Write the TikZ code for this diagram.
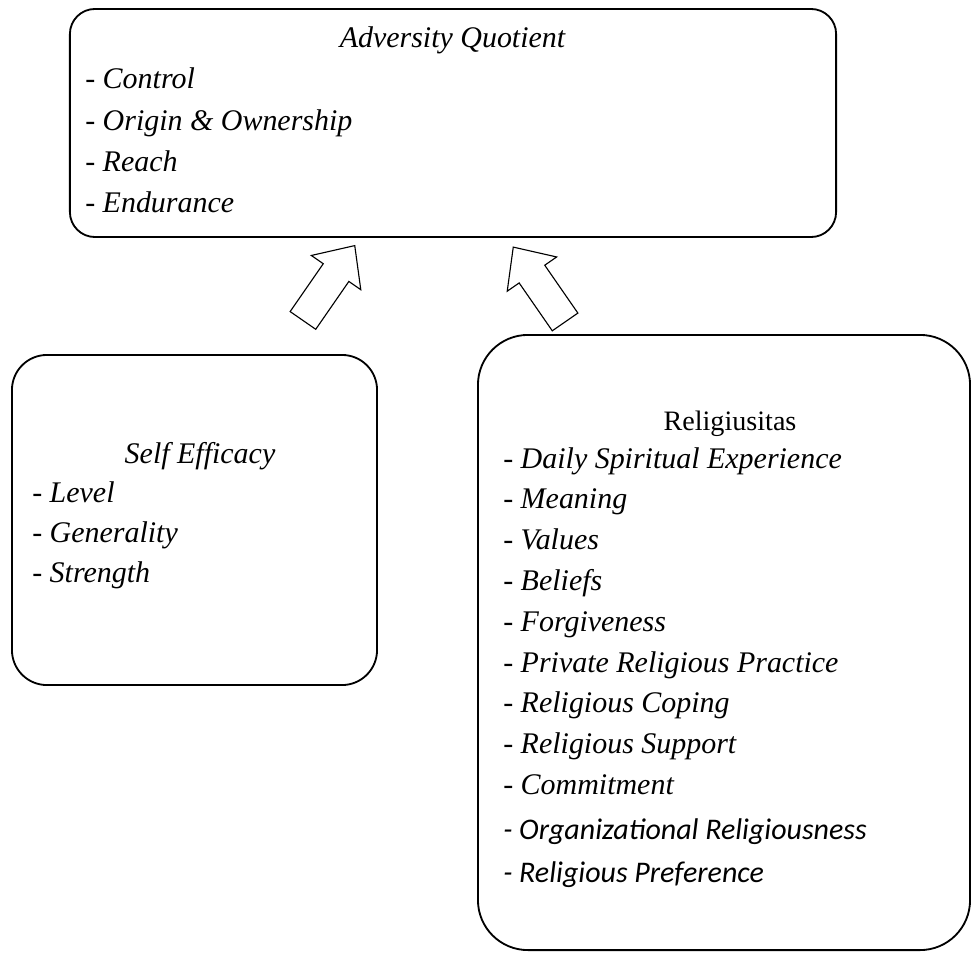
\documentclass[tikz,border=0pt]{standalone}
\usepackage{fontspec}
\setmainfont{LiberationSerif}[Extension=.ttf, UprightFont=*-Regular,
  ItalicFont=*-Italic, BoldFont=*-Bold, BoldItalicFont=*-BoldItalic]
\newfontfamily\calibri{Carlito}
\usepackage{tikz}
\usetikzlibrary{shapes.arrows}
\tikzset{%
  % boxes
  panel/.style={draw, rounded corners=#1, line width=1.3pt, inner sep=0pt},
  title/.style={inner sep=0pt, anchor=base, font=\fontsize{21.3}{26}\selectfont},
  item/.style={inner sep=0pt, anchor=base west, font=\fontsize{21.3}{26}\selectfont\itshape},
  itemsans/.style={inner sep=0pt, anchor=base west, font=\fontsize{21.3}{26}\selectfont\calibri\itshape},
  % block arrows
  bigarrow/.style={single arrow, draw, line width=0.8pt, inner sep=0pt,
    text height=0.75cm, text depth=0pt, minimum height=2.275cm,
    single arrow head extend=0.3625cm, single arrow tip angle=85},
}

\begin{document}
\begin{tikzpicture}[x=0.025cm, y=-0.025cm]
  \useasboundingbox (0,0) rectangle (971,953);

  % adversity quotient
  \node[panel=0.625cm, minimum width=19.15cm, minimum height=5.7cm] (aq) at (453,123) {};
  \node[title, font=\fontsize{21.3}{26}\selectfont\itshape] (aqtitle) at (452.5,48) {Adversity Quotient};
  \node[item] (aq1) at (85,89) {- Control};
  \node[item] (aq2) at (85,130) {- Origin \& Ownership};
  \node[item] (aq3) at (85,171) {- Reach};
  \node[item] (aq4) at (85,212) {- Endurance};

  % self efficacy
  \node[panel=0.875cm, minimum width=9.125cm, minimum height=8.25cm] (se) at (194.5,520) {};
  \node[title, font=\fontsize{21.3}{26}\selectfont\itshape] (setitle) at (200,463) {Self Efficacy};
  \node[item] (se1) at (32,502) {- Level};
  \node[item] (se2) at (32,542) {- Generality};
  \node[item] (se3) at (32,582) {- Strength};

  % religiusitas
  \node[panel=1.25cm, minimum width=12.3cm, minimum height=15.375cm] (rel) at (724,642.5) {};
  \node[title, font=\fontsize{20}{26}\selectfont] (reltitle) at (730,430) {Religiusitas};
  \foreach \t [count=\i] in {Daily Spiritual Experience, Meaning, Values, Beliefs,
      Forgiveness, Private Religious Practice, Religious Coping,
      Religious Support, Commitment}
    \node[item] (rel\i) at (503,{468+40.8*(\i-1)}) {- \t};
  \node[itemsans] (rel10) at (503,839) {- Organizational Religiousness};
  \node[itemsans] (rel11) at (503,882) {- Religious Preference};

  % arrows towards aq
  \node[bigarrow, rotate=55.3] (seup) at (324,290) {};
  \node[bigarrow, rotate=124.7] (relup) at (544,291.5) {};

\end{tikzpicture}
\end{document}
